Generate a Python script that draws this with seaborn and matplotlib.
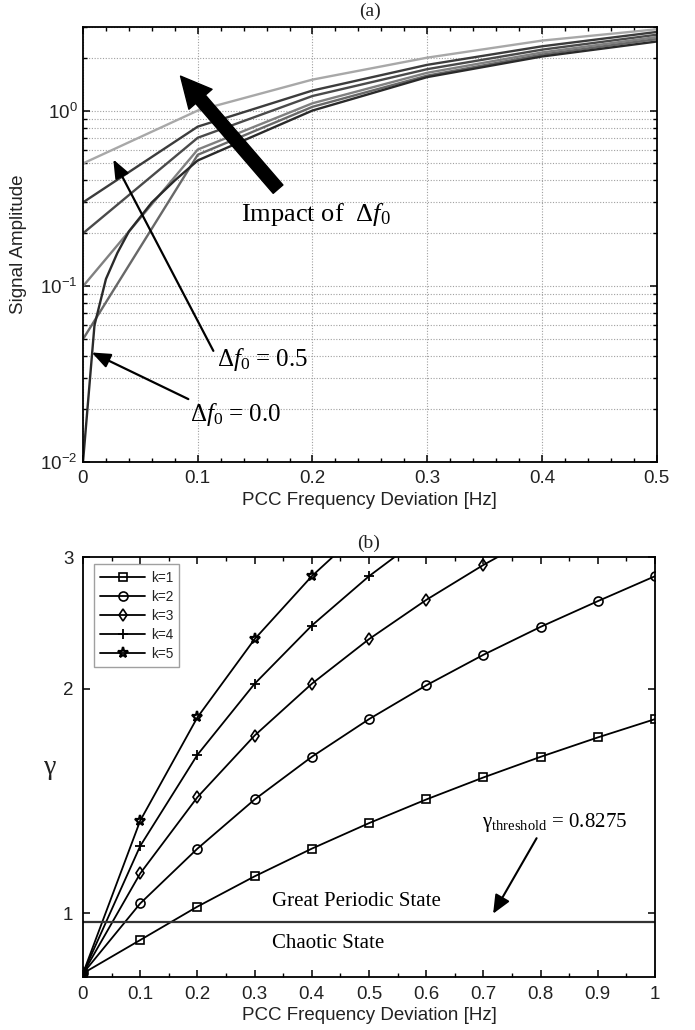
import pandas as pd
import matplotlib
matplotlib.use("Agg")
import matplotlib.pyplot as plt
import matplotlib.ticker as mticker
import seaborn as sns

# ---------------- (a) Signal amplitude vs PCC frequency deviation ----------------
freq_dev_a = [0.0, 0.1, 0.2, 0.3, 0.4, 0.5]
freq_dev_a_fine = [0.0, 0.01, 0.02, 0.03, 0.04, 0.06, 0.08, 0.1, 0.2, 0.3, 0.4, 0.5]

df0_levels = ["0.5", "0.3", "0.2", "0.1", "0.05", "0.0"]
amp_df0_050 = [0.50, 1.00, 1.50, 2.00, 2.50, 2.90]
amp_df0_030 = [0.30, 0.81, 1.30, 1.82, 2.32, 2.80]
amp_df0_020 = [0.20, 0.70, 1.21, 1.72, 2.22, 2.70]
amp_df0_010 = [0.10, 0.60, 1.10, 1.64, 2.14, 2.62]
amp_df0_005 = [0.05, 0.56, 1.05, 1.58, 2.08, 2.55]
amp_df0_000 = [0.01, 0.06, 0.11, 0.155, 0.205, 0.30, 0.40, 0.52, 1.00, 1.55, 2.03, 2.47]

df0_colors = {"0.5": "#a8a8a8", "0.3": "#3c3c3c", "0.2": "#4a4a4a",
              "0.1": "#808080", "0.05": "#686868", "0.0": "#2a2a2a"}

# ---------------- (b) gamma vs PCC frequency deviation ----------------
freq_dev_b = [0.0, 0.1, 0.2, 0.3, 0.4, 0.5, 0.6, 0.7, 0.8, 0.9, 1.0]
k_labels = ["k=1", "k=2", "k=3", "k=4", "k=5"]
gamma_k1 = [0.83, 0.92, 1.02, 1.12, 1.22, 1.32, 1.42, 1.52, 1.62, 1.72, 1.82]
gamma_k2 = [0.83, 1.03, 1.22, 1.42, 1.62, 1.82, 2.02, 2.22, 2.42, 2.62, 2.83]
gamma_k3 = [0.83, 1.13, 1.43, 1.73, 2.03, 2.33, 2.63, 2.93, 3.23]
gamma_k4 = [0.83, 1.23, 1.63, 2.03, 2.43, 2.83, 3.23]
gamma_k5 = [0.83, 1.33, 1.83, 2.33, 2.83, 3.33]
k_markers = ["s", "o", "d", "+", "*"]

# level of the horizontal line separating the chaotic and periodic regions
state_boundary = 0.973
threshold_label = r"$\mathrm{\gamma}_{\mathrm{threshold}}$ = 0.8275"

# ---------------- style ----------------
sns.set_style("ticks")
plt.rcParams.update({
    "mathtext.fontset": "custom",
    "mathtext.rm": "Liberation Serif",
    "mathtext.it": "Liberation Serif:italic",
    "mathtext.bf": "Liberation Serif:bold",
    "axes.linewidth": 1.3,
    "axes.edgecolor": "black",
    "text.color": "#222222",
    "axes.labelcolor": "#222222",
    "xtick.color": "black",
    "ytick.color": "black",
    "xtick.labelcolor": "#222222",
    "ytick.labelcolor": "#222222",
})
plt.rcParams["font.family"] = ["Liberation Sans", "DejaVu Sans"]
SERIF = ["Liberation Serif", "DejaVu Serif"]
LABEL_SIZE = 13.5

fig = plt.figure(figsize=(6.95, 10.3), dpi=100)
ax_a = fig.add_axes([83 / 695, 1 - 462 / 1030, (656.7 - 83) / 695, (462 - 26.7) / 1030])
ax_b = fig.add_axes([83 / 695, 1 - 977.3 / 1030, (655 - 83) / 695, 420 / 1030])

# ---------------- panel (a) ----------------
amp_series = [amp_df0_050, amp_df0_030, amp_df0_020, amp_df0_010, amp_df0_005, amp_df0_000]
frames = []
for lvl, ys in zip(df0_levels, amp_series):
    xs = freq_dev_a if len(ys) == len(freq_dev_a) else freq_dev_a_fine
    frames.append(pd.DataFrame({"dev": xs, "amp": ys, "df0": lvl}))
amp_df = pd.concat(frames, ignore_index=True)

ax_a.set_yscale("log")
sns.lineplot(data=amp_df, x="dev", y="amp", hue="df0", palette=df0_colors,
             estimator=None, sort=False, legend=False, lw=1.7, ax=ax_a)
ax_a.set_xlim(0, 0.5)
ax_a.set_ylim(0.01, 3)

ax_a.xaxis.set_major_locator(mticker.MultipleLocator(0.1))
ax_a.xaxis.set_minor_locator(mticker.MultipleLocator(0.02))
ax_a.xaxis.set_major_formatter(mticker.FuncFormatter(lambda v, p: f"{v:g}"))
ax_a.yaxis.set_major_locator(mticker.LogLocator(base=10))
ax_a.yaxis.set_minor_locator(mticker.LogLocator(base=10, subs=range(2, 10)))
ax_a.yaxis.set_minor_formatter(mticker.NullFormatter())

ax_a.grid(True, which="major", axis="x", ls=(0, (1, 1.5)), color="#a0a0a0", lw=0.8)
ax_a.grid(True, which="both", axis="y", ls=(0, (1, 1.5)), color="#a0a0a0", lw=0.8)
ax_a.set_axisbelow(True)

ax_a.tick_params(which="both", direction="in", top=True, right=True, labelsize=LABEL_SIZE)
ax_a.tick_params(which="major", length=5, width=1.1, pad=6)
ax_a.tick_params(which="minor", length=3, width=1.0)
ax_a.tick_params(axis="y", which="major", pad=4)

ax_a.set_xlabel("PCC Frequency Deviation [Hz]", fontsize=LABEL_SIZE)
ax_a.set_ylabel("Signal Amplitude", fontsize=LABEL_SIZE)
ax_a.xaxis.set_label_coords(0.5, -0.07)
ax_a.yaxis.set_label_coords(-0.098, 0.5)
ax_a.set_title("(a)", family=SERIF, fontsize=14, pad=8)

# thick arrow showing the trend with increasing initial deviation
ax_a.annotate("", xy=(0.085, 1.57), xytext=(0.170, 0.357),
              arrowprops=dict(arrowstyle="simple,head_length=1.0,head_width=1.0,tail_width=0.42",
                              mutation_scale=22, fc="black", ec="black",
                              shrinkA=0, shrinkB=0))
ax_a.text(0.138, 0.256, r"Impact of  $\Delta f_0$", family=SERIF, fontsize=19,
          ha="left", va="center", color="black")

thin_arrow = dict(arrowstyle="-|>,head_length=0.8,head_width=0.32", mutation_scale=14,
                  lw=1.6, color="black", shrinkA=0, shrinkB=0)
ax_a.annotate("", xy=(0.0264, 0.527), xytext=(0.1136, 0.0429), arrowprops=thin_arrow)
ax_a.text(0.1168, 0.0385, r"$\Delta f_0$ = 0.5", family=SERIF, fontsize=18,
          ha="left", va="center", color="black")
ax_a.annotate("", xy=(0.0076, 0.042), xytext=(0.0918, 0.0228), arrowprops=thin_arrow)
ax_a.text(0.0933, 0.0187, r"$\Delta f_0$ = 0.0", family=SERIF, fontsize=18,
          ha="left", va="center", color="black")

# ---------------- panel (b) ----------------
ax_b.set_yscale("log")
gamma_series = [gamma_k1, gamma_k2, gamma_k3, gamma_k4, gamma_k5]
marker_sizes = {"s": 5.5, "o": 6.5, "d": 6.5, "+": 7.5, "*": 8}
marker_edges = {"s": 1.2, "o": 1.2, "d": 1.2, "+": 1.3, "*": 1.6}
for lab, ys, mk in zip(k_labels, gamma_series, k_markers):
    sns.lineplot(x=freq_dev_b[:len(ys)], y=ys, marker=mk, color="black", lw=1.3,
                 markersize=marker_sizes[mk], markerfacecolor="none",
                 markeredgecolor="black", markeredgewidth=marker_edges[mk],
                 estimator=None, sort=False, label=lab, legend=False, ax=ax_b)

ax_b.axhline(state_boundary, color="#333333", lw=1.6)
ax_b.set_xlim(0, 1)
ax_b.set_ylim(0.82, 3)

ax_b.xaxis.set_major_locator(mticker.MultipleLocator(0.1))
ax_b.xaxis.set_minor_locator(mticker.MultipleLocator(0.05))
ax_b.xaxis.set_major_formatter(mticker.FuncFormatter(lambda v, p: f"{v:g}"))
ax_b.yaxis.set_major_locator(mticker.FixedLocator([1, 2, 3]))
ax_b.yaxis.set_minor_locator(mticker.NullLocator())
ax_b.yaxis.set_major_formatter(mticker.FuncFormatter(lambda v, p: f"{v:g}"))

ax_b.tick_params(which="both", direction="in", top=True, right=True, labelsize=LABEL_SIZE)
ax_b.tick_params(which="major", length=5, width=1.1, pad=6)
ax_b.tick_params(which="minor", length=3, width=1.0)
ax_b.tick_params(axis="y", which="major", pad=7)

ax_b.set_xlabel("PCC Frequency Deviation [Hz]", fontsize=LABEL_SIZE)
ax_b.set_ylabel("γ", family=SERIF, fontsize=20, rotation=0, va="center", ha="center")
ax_b.xaxis.set_label_coords(0.5, -0.07)
ax_b.yaxis.set_label_coords(-0.058, 0.5)
ax_b.set_title("(b)", family=SERIF, fontsize=14, pad=7)

leg = ax_b.legend(loc="upper left", bbox_to_anchor=(0.0198, 0.983), borderaxespad=0,
                  fontsize=9.8, frameon=True, fancybox=False, handlelength=3.3,
                  handletextpad=0.4, labelspacing=0.38, borderpad=0.45)
leg.get_frame().set_edgecolor("#888888")
leg.get_frame().set_linewidth(1.0)

ax_b.text(0.33, 1.036, "Great Periodic State", family=SERIF, fontsize=15,
          ha="left", va="center", color="black")
ax_b.text(0.33, 0.909, "Chaotic State", family=SERIF, fontsize=15,
          ha="left", va="center", color="black")
ax_b.text(0.697, 1.323, threshold_label, family=SERIF, fontsize=15,
          ha="left", va="center", color="black")
ax_b.annotate("", xy=(0.717, 0.998), xytext=(0.793, 1.26),
              arrowprops=dict(arrowstyle="-|>,head_length=0.8,head_width=0.35",
                              mutation_scale=14, lw=1.5, color="black",
                              shrinkA=0, shrinkB=0))

fig.savefig("out.png", dpi=100)
